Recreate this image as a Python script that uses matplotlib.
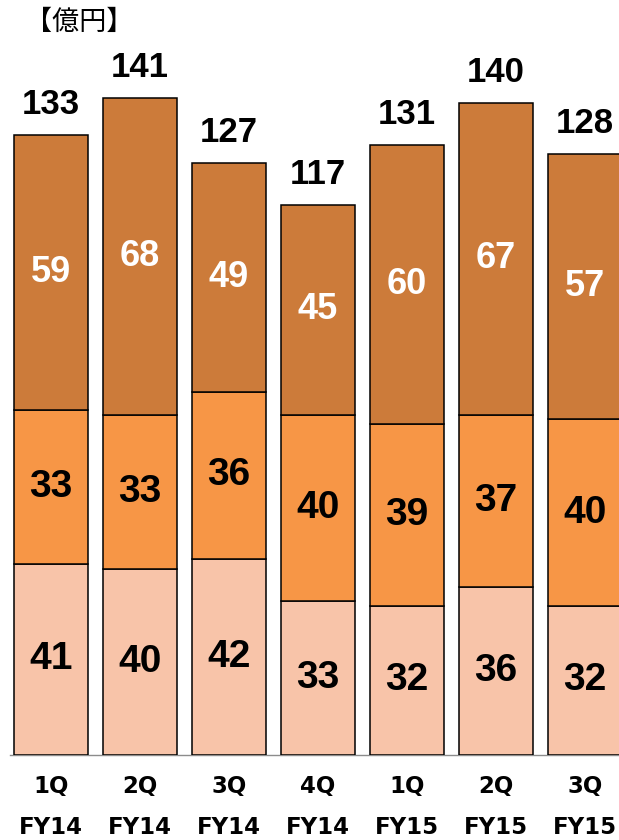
import matplotlib
matplotlib.use("Agg")
import matplotlib.pyplot as plt
import numpy as np

quarters = ["1Q", "2Q", "3Q", "4Q", "1Q", "2Q", "3Q"]
years = ["FY14", "FY14", "FY14", "FY14", "FY15", "FY15", "FY15"]
bottom_vals = [41, 40, 42, 33, 32, 36, 32]
middle_vals = [33, 33, 36, 40, 39, 37, 40]
top_vals = [59, 68, 49, 45, 60, 67, 57]
totals = [133, 141, 127, 117, 131, 140, 128]
unit_label = "【億円】"

c_bottom = "#F8C4A9"
c_middle = "#F79646"
c_top = "#CC7B3A"

W, H = 619, 840
dpi = 100
fig = plt.figure(figsize=(W / dpi, H / dpi), dpi=dpi)
base_px = 755
ax = fig.add_axes([0, (H - base_px) / H, 1, base_px / H])
px_per_unit = 4.66
ax.set_ylim(0, base_px / px_per_unit)
ax.set_xlim(-51 / 89, (W - 51) / 89)
ax.axis("off")

x = np.arange(len(quarters))
width = 0.83
bot = np.array(bottom_vals)
mid = np.array(middle_vals)
top = np.array(top_vals)
kw = dict(width=width, edgecolor="black", linewidth=1.1, zorder=3)
ax.bar(x, bot, color=c_bottom, **kw)
ax.bar(x, mid, bottom=bot, color=c_middle, **kw)
ax.bar(x, top, bottom=bot + mid, color=c_top, **kw)

ax.plot([-41 / 89, 10], [0, 0], color="#8c8c8c", lw=1.0, zorder=2, clip_on=False)

dark_font = dict(fontsize=28, fontweight="bold", family="Liberation Sans",
                 ha="center", va="center", zorder=4, color="black")
white_font = dict(fontsize=26, fontweight="bold", family="Liberation Sans",
                  ha="center", va="center", zorder=4, color="white")
for i in range(len(x)):
    ax.text(x[i], bot[i] / 2, str(bot[i]), **dark_font)
    ax.text(x[i], bot[i] + mid[i] / 2, str(mid[i]), **dark_font)
    ax.text(x[i], bot[i] + mid[i] + top[i] / 2, str(top[i]), **white_font)
    ax.annotate(str(totals[i]), (x[i], bot[i] + mid[i] + top[i]), xytext=(0, 10),
                textcoords="offset points", ha="center", va="bottom",
                fontsize=25, fontweight="bold", family="Liberation Sans", color="black")
    ax.text(x[i], -32 / px_per_unit, quarters[i], ha="center", va="center",
            fontsize=16.5, fontweight="bold", family="DejaVu Sans", color="black", clip_on=False)
    ax.text(x[i], -73 / px_per_unit, years[i], ha="center", va="center",
            fontsize=16.5, fontweight="bold", family="DejaVu Sans", color="black", clip_on=False)

fig.text(25 / W, 1 - 22 / H, unit_label, ha="left", va="center", fontsize=19.5,
         family=["Noto Sans CJK JP", "DejaVu Sans"], color="black")

fig.savefig("out.png", dpi=dpi)
